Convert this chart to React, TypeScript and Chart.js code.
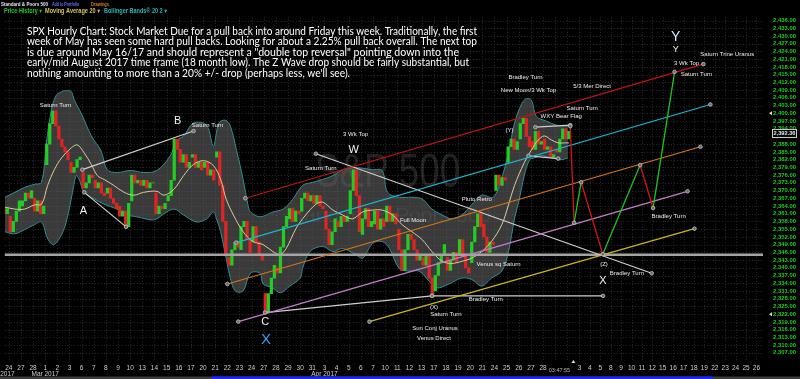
import React, { useEffect, useRef } from 'react';
import { Chart, registerables } from 'chart.js';

Chart.register(...registerables);

// ---------- calendar / axes ----------
const DAY_LABELS = [
  '24', '27', '28',
  '1', '2', '3', '6', '7', '8', '9', '10', '13', '14', '15', '16', '17', '20', '21', '22', '23', '24', '27', '28', '29', '30', '31',
  '3', '4', '5', '6', '7', '10', '11', '12', '13', '17', '18', '19', '20', '21', '24', '25', '26', '27', '28',
  '1', '2', '3', '4', '5', '8', '9', '10', '11', '12', '15', '16', '17', '18', '19', '22', '23', '24', '25', '26',
];
const MONTH_LABELS = ['Feb 2017', 'Mar 2017', 'Apr 2017'];
const MONTH_LABEL_DAYS = [-0.65, 3, 26];
const TIME_LABEL = '03:47:55';
const TIME_LABEL_DAY = 45.35;
const TIME_MARK_DAY = 46.5;
const PROJECTED_FROM_DAY = 47; // later days use the narrower projected slots
const Y_TICKS = Array.from({ length: 44 }, (_, i) => 2307 + 3 * i); // 2307 .. 2436
const LAST_PRICE = 2392.36;
const ALERT_LEVELS = [2400, 2322];

// ---------- hourly price history (open then successive closes, per trading day) ----------
const FIRST_CANDLE_DAY = -1; // Feb 23
const DAY_PRICES: number[][] = [
  [2364, 2362, 2363, 2361, 2363], // Feb 23
  [2360, 2354, 2358, 2362, 2366], // Feb 24
  [2364, 2366, 2369, 2367, 2370], // Feb 27
  [2367, 2362, 2366, 2361, 2364], // Feb 28
  [2380, 2388, 2396, 2401, 2395], // Mar 1
  [2395, 2390, 2387, 2385, 2382], // Mar 2
  [2381, 2377, 2379, 2382, 2383], // Mar 3
  [2377, 2371, 2373, 2376, 2375], // Mar 6
  [2374, 2371, 2373, 2369, 2368], // Mar 7
  [2369, 2371, 2367, 2365, 2363], // Mar 8
  [2364, 2360, 2362, 2356, 2365], // Mar 9
  [2366, 2376, 2373, 2374, 2372], // Mar 10
  [2372, 2374, 2371, 2373, 2373], // Mar 13
  [2369, 2361, 2364, 2363, 2365], // Mar 14
  [2366, 2368, 2374, 2390, 2386], // Mar 15
  [2386, 2381, 2384, 2379, 2381], // Mar 16
  [2383, 2384, 2379, 2381, 2378], // Mar 17
  [2379, 2381, 2376, 2378, 2374], // Mar 20
  [2383, 2385, 2372, 2358, 2345], // Mar 21
  [2344, 2341, 2347, 2350, 2348], // Mar 22
  [2347, 2356, 2358, 2351, 2346], // Mar 23
  [2350, 2356, 2350, 2345, 2343], // Mar 24
  [2330, 2323, 2330, 2336, 2341], // Mar 27
  [2340, 2338, 2348, 2356, 2360], // Mar 28
  [2359, 2363, 2358, 2362, 2361], // Mar 29
  [2362, 2367, 2369, 2366, 2368], // Mar 30
  [2368, 2365, 2368, 2364, 2363], // Mar 31
  [2362, 2355, 2349, 2354, 2359], // Apr 3
  [2358, 2356, 2360, 2358, 2360], // Apr 4
  [2361, 2370, 2378, 2368, 2354], // Apr 5
  [2353, 2359, 2363, 2356, 2358], // Apr 6
  [2357, 2362, 2355, 2359, 2356], // Apr 7
  [2358, 2364, 2358, 2361, 2357], // Apr 10
  [2355, 2347, 2339, 2347, 2353], // Apr 11
  [2353, 2351, 2347, 2343, 2345], // Apr 12
  [2344, 2341, 2345, 2336, 2330], // Apr 13
  [2331, 2337, 2342, 2345, 2349], // Apr 17
  [2344, 2339, 2343, 2346, 2342], // Apr 18
  [2345, 2351, 2345, 2340, 2338], // Apr 19
  [2342, 2350, 2356, 2361, 2356], // Apr 20
  [2357, 2352, 2346, 2350, 2349], // Apr 21
  [2370, 2376, 2372, 2375, 2374], // Apr 24
  [2381, 2387, 2390, 2386, 2389], // Apr 25
  [2390, 2396, 2398, 2391, 2387], // Apr 26
  [2389, 2386, 2393, 2388, 2389], // Apr 27
  [2390, 2386, 2387, 2383, 2384], // Apr 28
  [2386, 2385, 2390, 2394, 2390], // May 1
  [2390, 2393], // May 2
];

// ---------- indicators: [day, value] ----------
const MA20: number[][] = [
  [-0.33, 2363.6], [0.5, 2362.8], [1.3, 2362.8], [2.1, 2364.4], [2.7, 2364.7], [3.2, 2372.0], [3.75, 2378.1],
  [4.35, 2382.7], [5.15, 2386.6], [5.65, 2387.7], [6.2, 2384.7], [6.8, 2380.1], [7.3, 2375.8], [7.85, 2374.3],
  [8.65, 2372.0], [9.5, 2369.3], [10.3, 2368.2], [11.1, 2369.3], [12.2, 2369.7], [12.77, 2368.2], [13.6, 2370.5],
  [14.4, 2375.8], [15.2, 2380.1], [16.05, 2381.6], [16.85, 2379.7], [17.45, 2374.3], [17.9, 2366.7], [18.5, 2360.5],
  [19.3, 2354.0], [20.1, 2350.2], [20.95, 2349.0], [21.75, 2346.3], [22.35, 2345.2], [22.85, 2347.5], [23.65, 2355.2],
  [24.45, 2360.5], [25.3, 2364.7], [25.85, 2365.5], [26.7, 2362.4], [27.5, 2360.5], [28.3, 2359.0], [29.15, 2361.7],
  [29.95, 2362.4], [30.75, 2362.4], [31.6, 2360.5], [32.4, 2356.7], [33.2, 2354.0], [34.05, 2350.9], [34.85, 2346.3],
  [35.7, 2342.5], [36.5, 2341.7], [37.3, 2342.5], [38.1, 2343.7], [38.95, 2346.3], [39.75, 2350.2], [40.6, 2356.7],
  [41.15, 2364.4], [41.65, 2372.0], [42.45, 2380.8], [43.05, 2385.8], [43.6, 2389.6], [44.1, 2391.2], [44.7, 2389.6],
  [45.25, 2388.5], [45.75, 2388.5], [46.15, 2388.5],
];
const BB_UPPER: number[][] = [
  [-0.33, 2367.4], [0.5, 2369.3], [1.3, 2371.2], [2.1, 2372.4], [2.7, 2373.2], [3.1, 2388.5], [3.5, 2401.1],
  [3.9, 2406.9], [4.35, 2408.4], [4.75, 2408.8], [5.15, 2408.4], [5.4, 2405.0], [5.97, 2400.0], [6.8, 2391.2],
  [7.6, 2385.4], [8.1, 2378.1], [8.9, 2377.0], [10.05, 2377.8], [11.1, 2377.0], [12.2, 2377.8], [13.3, 2383.5],
  [13.83, 2389.3], [14.4, 2391.2], [15.22, 2396.2], [16.28, 2395.4], [16.85, 2387.3], [17.3, 2396.2], [17.85, 2397.3],
  [18.25, 2395.0], [18.75, 2385.8], [19.3, 2374.3], [19.7, 2364.4], [19.9, 2361.7], [20.7, 2359.8], [21.75, 2361.7],
  [22.6, 2362.8], [23.4, 2366.7], [24.2, 2372.0], [25.05, 2373.2], [25.85, 2374.3], [26.7, 2375.8], [27.5, 2378.1],
  [28.55, 2378.9], [29.95, 2378.1], [30.75, 2377.8], [31.2, 2369.3], [32.15, 2367.4], [33.2, 2367.4], [34.05, 2366.7],
  [34.85, 2362.8], [35.7, 2360.5], [36.5, 2359.0], [37.3, 2360.5], [38.1, 2364.4], [38.95, 2368.2], [39.9, 2367.4],
  [40.6, 2375.1], [41.15, 2384.7], [41.65, 2396.2], [42.25, 2403.8], [42.65, 2405.7], [43.05, 2405.0], [43.45, 2398.8],
  [44.3, 2396.9], [45.1, 2395.4], [46.05, 2395.0],
];
const BB_LOWER: number[][] = [
  [-0.33, 2354.0], [0.5, 2353.2], [1.3, 2354.8], [2.1, 2356.7], [2.7, 2357.8], [3.2, 2351.3], [3.7, 2349.0],
  [4.35, 2352.9], [4.8, 2359.0], [5.25, 2369.3], [5.55, 2375.8], [5.8, 2374.3], [6.2, 2369.3], [7.05, 2366.7],
  [7.85, 2364.7], [8.9, 2362.8], [9.75, 2360.5], [10.55, 2359.8], [11.7, 2358.6], [12.2, 2359.0], [12.75, 2360.9],
  [13.6, 2362.8], [14.4, 2360.5], [15.45, 2357.8], [16.3, 2359.0], [16.85, 2361.7], [17.1, 2359.0], [17.45, 2354.0],
  [17.9, 2343.7], [18.25, 2336.0], [18.65, 2331.0], [19.3, 2331.0], [19.9, 2337.9], [20.7, 2337.9], [20.95, 2333.7],
  [21.75, 2332.2], [22.35, 2330.3], [23.15, 2332.9], [24.0, 2336.0], [24.2, 2339.8], [24.8, 2346.3], [25.85, 2348.3],
  [26.7, 2346.3], [27.5, 2347.5], [28.55, 2345.2], [29.15, 2343.7], [29.95, 2349.4], [30.75, 2350.2], [31.35, 2347.5],
  [32.15, 2339.8], [33.0, 2338.7], [33.8, 2338.7], [34.6, 2334.9], [35.25, 2332.2], [36.25, 2333.7], [37.3, 2336.0],
  [38.1, 2335.5], [38.95, 2332.9], [39.75, 2336.0], [40.6, 2338.7], [41.15, 2346.3], [41.65, 2359.0], [42.05, 2366.7],
  [42.45, 2375.8], [42.9, 2382.0], [43.3, 2382.7], [43.85, 2383.5], [44.7, 2382.7], [45.5, 2382.0], [46.05, 2382.7],
];

// ---------- drawn trend lines: [day, value] ----------
const LINE_RED = [[19.48, 2367.0], [58.9, 2419.1]];
const LINE_CYAN = [[18.74, 2349.8], [59.58, 2403.4]];
const LINE_ORANGE = [[18.0, 2333.7], [58.62, 2387.0]];
const LINE_PINK = [[18.9, 2319.1], [57.38, 2369.7]];
const LINE_YELLOW = [[29.7, 2319.1], [58.05, 2355.2]];
const LINE_A_B = [[6.06, 2378.1], [15.22, 2393.1]];
const LINE_A = [[6.22, 2369.3], [9.66, 2355.9]];
const LINE_W = [[25.29, 2384.3], [53.94, 2337.9]];
const LINE_C_X = [[21.1, 2322.6], [34.86, 2329.1]];
const LINE_X_FLAT = [[34.86, 2329.1], [49.26, 2329.1]];
const LINE_FLAG_TOP = [[43.37, 2394.6], [46.24, 2395.4]];
const LINE_FLAG_BOTTOM = [[42.8, 2383.5], [45.25, 2382.4]];
const SUPPORT_LEVEL = 2345.1;
const SUPPORT_SPAN = [-0.5, 64.7];
const PROJECTION = [
  [46.24, 2395.0], [46.56, 2357.5], [47.16, 2373.2], [49.24, 2345.3],
  [52.83, 2379.9], [54.07, 2363.2], [56.14, 2416.1],
];

// ---------- annotations: [text, day, value] ----------
const NOTES: [string, number, number][] = [
  ['Saturn Turn', 3.85, 2403.0],
  ['Saturn Turn', 16.37, 2395.4],
  ['3 Wk Top', 28.56, 2391.9],
  ['Saturn Turn', 25.7, 2378.5],
  ['Full Moon', 33.3, 2358.6],
  ['Pluto Retro', 38.54, 2366.7],
  ['Venus sq Saturn', 40.34, 2341.4],
  ['(Y)', 41.24, 2393.5],
  ['Bradley Turn', 42.55, 2413.8],
  ['New Moon/3 Wk Top', 42.8, 2408.8],
  ['5/3 Mer Direct', 48.21, 2410.3],
  ['Saturn Turn', 47.26, 2401.9],
  ['WXY Bear Flag', 45.5, 2398.8],
  ['Saturn Trine Uranus', 61.2, 2423.0],
  ['3 Wk Top', 57.29, 2419.5],
  ['Saturn Turn', 58.24, 2415.3],
  ['Bradley Turn', 55.57, 2360.1],
  ['(Z)', 49.36, 2341.4],
  ['Bradley Turn', 51.56, 2337.9],
  ['Bradley Turn', 39.28, 2327.6],
  ['(X)', 35.02, 2324.5],
  ['Saturn Turn', 36.0, 2321.8],
  ['Sun Conj Uranus', 35.1, 2316.5],
  ['Venus Direct', 35.02, 2312.6],
];
const WAVE_LETTERS: [string, number, number][] = [
  ['A', 6.14, 2362.1],
  ['B', 13.91, 2396.9],
  ['C', 21.11, 2318.8],
  ['W', 28.4, 2385.8],
  ['X', 49.26, 2334.9],
  ['Y', 56.24, 2424.9],
];
const CYCLE_X: [string, number, number] = ['X', 21.19, 2312.2];
const CYCLE_Y: [string, number, number] = ['Y', 56.24, 2429.6];

const TITLE_LINES = [
  'SPX Hourly Chart: Stock Market Due for a pull back into around Friday this week. Traditionally, the first',
  'week of May has seen some hard pull backs. Looking for about a 2.25% pull back overall. The next top',
  'is due around May 16/17 and should represent a "double top reversal" pointing down into the',
  'early/mid August 2017 time frame (18 month low). The Z Wave drop should be fairly substantial, but',
  "nothing amounting to more than a 20% +/- drop (perhaps less, we'll see).",
];

// ---------- helpers ----------
const dayToBar = (d: number) => (d <= PROJECTED_FROM_DAY ? d * 7 : PROJECTED_FROM_DAY * 7 + (d - PROJECTED_FROM_DAY) * 6);
const X_MIN = -2.29;
const X_MAX = 434.8;
const Y_MIN = 2304.97;
const Y_MAX = 2442.13;
const SANS = '"Liberation Sans", Arial, "DejaVu Sans", sans-serif';
const fmt = (v: number) => v.toLocaleString('en-US', { minimumFractionDigits: 2, maximumFractionDigits: 2 });
const toPts = (arr: number[][]) => arr.map(([d, v]) => ({ x: dayToBar(d), y: v }));

function text(ctx: CanvasRenderingContext2D, s: string, x: number, y: number, font: string, color: string, align: CanvasTextAlign = 'center', maxW?: number) {
  ctx.font = font;
  ctx.fillStyle = color;
  ctx.textAlign = align;
  ctx.textBaseline = 'middle';
  if (maxW) ctx.fillText(s, x, y, maxW);
  else ctx.fillText(s, x, y);
}

const overlayPlugin = {
  id: 'overlay',
  beforeDatasetsDraw(chart: any) {
    const { ctx, chartArea: a, scales } = chart;
    const x = scales.x;
    const y = scales.y;
    ctx.save();
    ctx.strokeStyle = '#2c2c2c';
    ctx.lineWidth = 1;
    ctx.setLineDash([1, 2]);
    Y_TICKS.forEach((v) => {
      const py = Math.round(y.getPixelForValue(v)) + 0.5;
      ctx.beginPath();
      ctx.moveTo(a.left, py);
      ctx.lineTo(a.right, py);
      ctx.stroke();
    });
    DAY_LABELS.forEach((_, i) => {
      const px = Math.round(x.getPixelForValue(dayToBar(i))) + 0.5;
      ctx.beginPath();
      ctx.moveTo(px, a.top + 12);
      ctx.lineTo(px, a.bottom + 2);
      ctx.stroke();
    });
    ctx.setLineDash([]);
    // watermark
    const wx = x.getPixelForValue(dayToBar(31.2));
    text(ctx, 'S&P 500', wx, y.getPixelForValue(2376.5), `48px ${SANS}`, 'rgba(255,255,255,0.13)', 'center', 145);
    text(ctx, 'Standard & Poors 500', wx, y.getPixelForValue(2360), `21px ${SANS}`, 'rgba(255,255,255,0.10)', 'center', 226);
    ctx.restore();
  },
  afterDraw(chart: any) {
    const { ctx, chartArea: a, scales } = chart;
    const x = scales.x;
    const y = scales.y;
    const px = (d: number) => x.getPixelForValue(dayToBar(d));
    const py = (v: number) => y.getPixelForValue(v);
    ctx.save();

    // annotations
    NOTES.forEach(([s, d, v]) => text(ctx, s, px(d), py(v), `6px ${SANS}`, '#ececec'));
    WAVE_LETTERS.forEach(([s, d, v], i) =>
      text(ctx, s, px(d), py(v), `${i === 5 ? 9 : 11}px ${SANS}`, '#f2f2f2'));
    text(ctx, CYCLE_X[0], px(CYCLE_X[1]), py(CYCLE_X[2]), `15px ${SANS}`, '#3d9cf0');
    text(ctx, CYCLE_Y[0], px(CYCLE_Y[1]), py(CYCLE_Y[2]), `14px ${SANS}`, '#d8ecff');

    // header
    text(ctx, 'Standard & Poors 500', 1, 4, `bold 6px ${SANS}`, '#e8e8e8', 'left', 47);
    text(ctx, 'Add to Portfolio', 52, 4, `bold 6px ${SANS}`, '#5b7dff', 'left', 27);
    text(ctx, 'Drawings', 91, 4, `bold 6px ${SANS}`, '#e07a20', 'left', 18);
    text(ctx, 'Price History \u25BE', 4, 11, `bold 6.5px ${SANS}`, '#22cc22', 'left', 38);
    text(ctx, 'Moving Average 20 \u25BE', 45, 11, `bold 6.5px ${SANS}`, '#d2c05c', 'left', 55);
    text(ctx, 'Bollinger Bands\u00AE 20 2 \u25BE', 104, 11, `bold 6.5px ${SANS}`, '#2fb3b3', 'left', 63);

    // title paragraph (each line stretched to its width in the original)
    const pFont = `10.5px Lato, "Open Sans", ${SANS}`;
    const rightEdges = [477, 477, 459, 469, 350];
    TITLE_LINES.forEach((s, i) => {
      ctx.font = pFont;
      const w = ctx.measureText(s).width;
      const sx = (rightEdges[i] - 27) / w;
      ctx.save();
      ctx.translate(27, 31.7 + i * 10.4);
      ctx.scale(sx, 1);
      text(ctx, s, 0, 0, pFont, '#ffffff', 'left');
      ctx.restore();
    });

    // right price axis
    Y_TICKS.forEach((v) => text(ctx, fmt(v), a.right + 10, py(v), `bold 6px ${SANS}`, '#20cc20', 'left', 23));
    ALERT_LEVELS.forEach((v) => {
      const yy = py(v);
      ctx.fillStyle = '#e0e0e0';
      ctx.beginPath();
      ctx.moveTo(a.right + 6, yy);
      ctx.lineTo(a.right + 9, yy - 2);
      ctx.lineTo(a.right + 9, yy + 2);
      ctx.closePath();
      ctx.fill();
    });
    const ly = py(LAST_PRICE);
    ctx.fillStyle = '#000';
    ctx.fillRect(a.right + 9, ly - 4, 25, 8);
    ctx.strokeStyle = '#cfcfcf';
    ctx.lineWidth = 1;
    ctx.strokeRect(a.right + 9.5, ly - 3.5, 24, 8);
    text(ctx, fmt(LAST_PRICE), a.right + 21.5, ly + 0.5, `bold 6px ${SANS}`, '#e8e8e8', 'center', 22);

    // bottom date axis
    DAY_LABELS.forEach((s, i) => {
      if (Math.abs(i - TIME_LABEL_DAY) < 1.2) return;
      text(ctx, s, px(i), a.bottom + 10, `6.5px ${SANS}`, '#d0d0d0');
    });
    MONTH_LABELS.forEach((s, i) => text(ctx, s, px(MONTH_LABEL_DAYS[i]), a.bottom + 16.5, `6.5px ${SANS}`, '#d0d0d0'));
    text(ctx, TIME_LABEL, px(TIME_LABEL_DAY), a.bottom + 12, `5.5px ${SANS}`, '#b8b8b8');
    const tx = px(TIME_MARK_DAY);
    ctx.fillStyle = '#e0e0e0';
    ctx.beginPath();
    ctx.moveTo(tx, a.bottom + 2);
    ctx.lineTo(tx - 2, a.bottom + 5);
    ctx.lineTo(tx + 2, a.bottom + 5);
    ctx.closePath();
    ctx.fill();
    // scroll bar
    ctx.fillStyle = '#3c3c3c';
    ctx.fillRect(0, 376.5, 800, 2.5);
    ctx.fillStyle = '#1428ff';
    ctx.fillRect(212, 376.5, 501, 2.5);
    ctx.restore();
  },
};

export default function App() {
  const ref = useRef<HTMLCanvasElement | null>(null);

  useEffect(() => {
    if (!ref.current) return;
    const GREEN = '#22cc22';
    const RED = '#e02424';

    const candles: { x: number; y: number[] }[] = [];
    const candleColors: string[] = [];
    DAY_PRICES.forEach((pts, i) => {
      const day = FIRST_CANDLE_DAY + i;
      for (let k = 0; k < pts.length - 1; k++) {
        const d = day + (k + 0.5) / 4;
        candles.push({ x: dayToBar(d), y: [pts[k], pts[k + 1]] });
        candleColors.push(pts[k + 1] >= pts[k] ? GREEN : RED);
      }
    });

    const trend = (pts: number[][], color: string, width = 1.2) => ({
      type: 'line' as const,
      data: toPts(pts),
      borderColor: color,
      borderWidth: width,
      pointRadius: 1.8,
      pointBackgroundColor: '#6a6a6a',
      pointBorderColor: '#c8c8c8',
      pointBorderWidth: 0.8,
      fill: false,
      tension: 0,
      order: 1,
    });

    const chart = new Chart(ref.current, {
      type: 'bar',
      data: {
        datasets: [
          {
            type: 'line',
            data: toPts(BB_UPPER),
            borderColor: '#2e8f96',
            borderWidth: 1,
            pointRadius: 0,
            tension: 0.35,
            fill: false,
            order: 20,
          },
          {
            type: 'line',
            data: toPts(BB_LOWER),
            borderColor: '#2e8f96',
            borderWidth: 1,
            pointRadius: 0,
            tension: 0.35,
            fill: '-1',
            backgroundColor: 'rgba(96,96,96,0.6)',
            order: 20,
          },
          {
            type: 'bar',
            data: candles as any,
            backgroundColor: candleColors,
            borderWidth: 0,
            barThickness: 2.6,
            order: 10,
          },
          {
            type: 'line',
            data: toPts(MA20),
            borderColor: '#d8cd9a',
            borderWidth: 1,
            pointRadius: 0,
            tension: 0.35,
            fill: false,
            order: 5,
          },
          {
            type: 'line',
            data: SUPPORT_SPAN.map((d) => ({ x: dayToBar(d), y: SUPPORT_LEVEL })),
            borderColor: '#a4a4a4',
            borderWidth: 2.5,
            pointRadius: 0,
            fill: false,
            order: 2,
          },
          trend(LINE_RED, '#c01414'),
          trend(LINE_CYAN, '#1cb6d0'),
          trend(LINE_ORANGE, '#d67518'),
          trend(LINE_PINK, '#c47cc8'),
          trend(LINE_YELLOW, '#cbb41c'),
          trend(LINE_A_B, '#cfcfcf'),
          trend(LINE_A, '#cfcfcf'),
          trend(LINE_W, '#cfcfcf'),
          trend(LINE_C_X, '#cfcfcf'),
          trend(LINE_X_FLAT, '#cfcfcf'),
          trend(LINE_FLAG_TOP, '#cfcfcf'),
          trend(LINE_FLAG_BOTTOM, '#cfcfcf'),
          {
            ...trend(PROJECTION, '#d01818', 1.3),
            order: 0,
            segment: {
              borderColor: (c: any) => (c.p1.parsed.y < c.p0.parsed.y ? '#d01818' : '#1ec41e'),
            },
          },
        ] as any,
      },
      options: {
        animation: false,
        responsive: false,
        devicePixelRatio: 1,
        events: [],
        layout: { padding: { left: 0, top: 0, right: 37, bottom: 21 } },
        plugins: { legend: { display: false }, tooltip: { enabled: false } },
        scales: {
          x: { type: 'linear', display: false, min: X_MIN, max: X_MAX, offset: false },
          y: { type: 'linear', display: false, min: Y_MIN, max: Y_MAX },
        },
      },
      plugins: [overlayPlugin],
    });
    return () => chart.destroy();
  }, []);

  return (
    <div style={{ position: 'fixed', left: 0, top: 0, width: 800, height: 379, background: '#000' }}>
      <canvas ref={ref} width={800} height={379} style={{ display: 'block', width: 800, height: 379 }} />
    </div>
  );
}
